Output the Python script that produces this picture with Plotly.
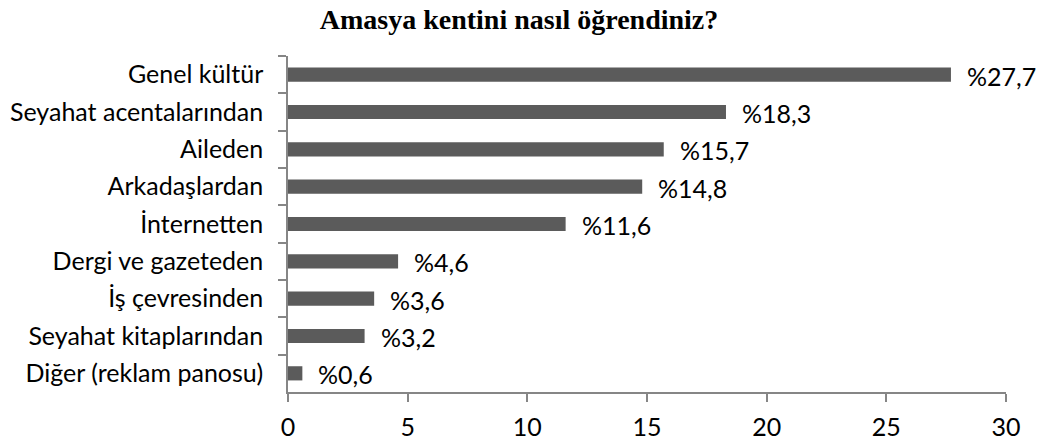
import plotly.graph_objects as go

categories = ["Genel kültür", "Seyahat acentalarından", "Aileden", "Arkadaşlardan",
              "İnternetten", "Dergi ve gazeteden", "İş çevresinden",
              "Seyahat kitaplarından", "Diğer (reklam panosu)"]
values = [27.7, 18.3, 15.7, 14.8, 11.6, 4.6, 3.6, 3.2, 0.6]
value_labels = ["%27,7", "%18,3", "%15,7", "%14,8", "%11,6", "%4,6", "%3,6", "%3,2", "%0,6"]
x_ticks = [0, 5, 10, 15, 20, 25, 30]

label_font = dict(family="Lato, Open Sans, sans-serif", size=25, color="#000000")

fig = go.Figure()
fig.add_trace(go.Bar(
    x=values, y=categories, orientation="h",
    marker=dict(color="#5b5b5b", line=dict(width=0)),
    width=0.38,
))

for v, c, t in zip(values, categories, value_labels):
    fig.add_annotation(x=v, y=c, text=t, showarrow=False, xanchor="left",
                       xshift=14, yshift=-1, font=label_font)

fig.update_layout(
    width=1038, height=443,
    margin=dict(l=288, r=32, t=56, b=51),
    paper_bgcolor="white", plot_bgcolor="white",
    showlegend=False,
    title=dict(text="<b>Amasya kentini nasıl öğrendiniz?</b>",
               x=0.5, xanchor="center", y=0.956, yanchor="middle",
               font=dict(family="Liberation Serif, Times New Roman, serif", size=28, color="#000")),
)
fig.update_xaxes(range=[0, 30], tickvals=x_ticks, showgrid=False, zeroline=False,
                 showline=True, linecolor="#868686", linewidth=1.5,
                 ticks="outside", ticklen=8, tickcolor="#868686", tickwidth=1.5,
                 tickfont=label_font, ticklabelstandoff=4, automargin=False)
fig.update_yaxes(autorange="reversed", showgrid=False, zeroline=False,
                 showline=True, linecolor="#868686", linewidth=1.5,
                 ticks="outside", tickson="boundaries", ticklen=8,
                 tickcolor="#868686", tickwidth=1.5, tickfont=label_font,
                 ticklabelstandoff=18, automargin=False)

fig.write_html("out.html")
